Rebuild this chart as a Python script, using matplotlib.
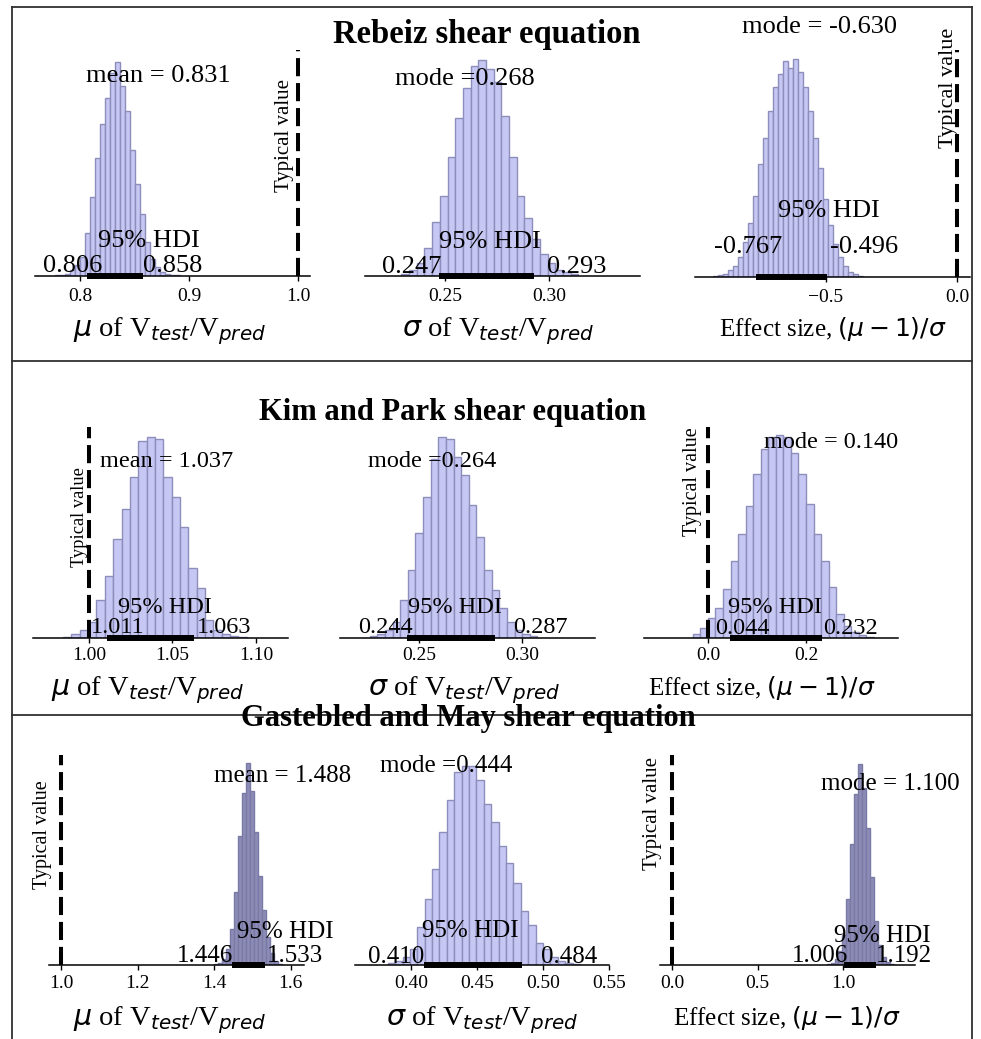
import matplotlib.pyplot as plt
from matplotlib.lines import Line2D

plt.rcParams['font.family'] = ['Liberation Serif', 'DejaVu Serif']
plt.rcParams['mathtext.fontset'] = 'dejavusans'

W, H = 981, 1039

# binned posterior samples: [first bin edge, bin width] and bar heights (tallest bar = 100)
rebeiz_mu_bins = [0.7770, 0.0046]
rebeiz_mu = [0.3, 0.6, 1, 3, 5, 9, 20, 37, 55, 71, 83, 95, 100, 89, 77, 59, 43, 29, 16, 8, 4, 2, 1, 0.5, 0.3]
rebeiz_sigma_bins = [0.2290, 0.0037]
rebeiz_sigma = [1, 3, 6, 13, 25, 37, 55, 73, 87, 97, 100, 96, 90, 74, 55, 37, 27, 17, 10, 6, 3, 2, 1]
rebeiz_effect_bins = [-0.930, 0.0191]
rebeiz_effect = [0.5, 1, 1.5, 3, 5, 9, 16, 25, 37, 52, 64, 76, 87, 93, 99, 96, 100, 94, 87, 76,
                 64, 50, 36, 24, 15, 9, 5, 2.5, 1.5, 0.5]

kim_mu_bins = [0.9845, 0.005]
kim_mu = [0.5, 2, 4, 8, 19, 31, 49, 64, 80, 98, 100, 99, 80, 70, 55, 35, 25, 9, 4, 2, 1, 0.5]
kim_sigma_bins = [0.2261, 0.0037]
kim_sigma = [1, 2, 4, 8, 19, 34, 52, 70, 89, 100, 99, 90, 81, 66, 50, 34, 24, 15, 8, 4, 2, 1]
kim_effect_bins = [-0.031, 0.0154]
kim_effect = [2, 5, 10, 15, 24, 38, 51, 65, 81, 93, 99, 100, 99, 91, 81, 66, 51, 38, 25, 12, 6, 3, 1.5, 0.5]

gm_mu_bins = [1.3988, 0.0105]
gm_mu = [0.3, 1, 3, 8, 18, 36, 64, 85, 100, 86, 66, 44, 27, 14, 6, 2, 0.7]
gm_sigma_bins = [0.3824, 0.0056]
gm_sigma = [1, 2, 4, 8, 19, 33, 48, 67, 83, 97, 100, 100, 93, 81, 72, 60, 51, 41, 27, 20, 11, 8, 4, 2, 1, 0.5]
gm_effect_bins = [0.9045, 0.023]
gm_effect = [0.3, 1, 3, 7, 15, 33, 60, 85, 100, 88, 68, 44, 22, 10, 4, 1.5, 0.5]

# central value and 95% HDI of each posterior
rebeiz_mu_stat, rebeiz_mu_hdi = 0.831, [0.806, 0.858]
rebeiz_sigma_stat, rebeiz_sigma_hdi = 0.268, [0.247, 0.293]
rebeiz_effect_stat, rebeiz_effect_hdi = -0.630, [-0.767, -0.496]
kim_mu_stat, kim_mu_hdi = 1.037, [1.011, 1.063]
kim_sigma_stat, kim_sigma_hdi = 0.264, [0.244, 0.287]
kim_effect_stat, kim_effect_hdi = 0.140, [0.044, 0.232]
gm_mu_stat, gm_mu_hdi = 1.488, [1.446, 1.533]
gm_sigma_stat, gm_sigma_hdi = 0.444, [0.410, 0.484]
gm_effect_stat, gm_effect_hdi = 1.100, [1.006, 1.192]

# x ticks of each panel
rebeiz_mu_ticks = [0.8, 0.9, 1.0]
rebeiz_sigma_ticks = [0.25, 0.30]
rebeiz_effect_ticks = [-0.5, 0.0]
kim_mu_ticks = [1.00, 1.05, 1.10]
kim_sigma_ticks = [0.25, 0.30]
kim_effect_ticks = [0.0, 0.2]
gm_mu_ticks = [1.0, 1.2, 1.4, 1.6]
gm_sigma_ticks = [0.40, 0.45, 0.50, 0.55]
gm_effect_ticks = [0.0, 0.5, 1.0]

row_titles = ['Rebeiz shear equation', 'Kim and Park shear equation', 'Gastebled and May shear equation']
x_labels = [r'$\mu$ of V$_{test}$/V$_{pred}$', r'$\sigma$ of V$_{test}$/V$_{pred}$',
            r'Effect size, $(\mu - 1)/\sigma$']
x_label_sizes = [20.5, 20.5, 18]

LIGHT = ('#c7c7f3', '#8e8ebc')
DARK = ('#8c8cb6', '#7a7aa6')

fig = plt.figure(figsize=(W / 100, H / 100), dpi=100)


def fx(x):
    return x / W


def fy(y):
    return 1 - y / H


def panel(box, lim, bins, heights, colors, peak_frac, ticks, fmt, hdi, ref, tick_pad):
    left, right, top, base = box
    ax = fig.add_axes([fx(left), fy(base), (right - left) / W, (base - top) / H])
    start, width = bins
    edges = [start + i * width for i in range(len(heights))]
    ax.bar(edges, heights, width=width, align='edge', color=colors[0],
           edgecolor=colors[1], linewidth=1.0, zorder=2)
    ax.plot(hdi, [0, 0], color='black', lw=4.3, solid_capstyle='butt', clip_on=False, zorder=4)
    if ref is not None:
        ax.axvline(ref, color='black', lw=2.9, linestyle=(0, (4.5, 1.7)), zorder=5)
    ax.set_xlim(*lim)
    ax.set_ylim(0, 100 / peak_frac)
    for s in ('left', 'right', 'top'):
        ax.spines[s].set_visible(False)
    ax.spines['bottom'].set_linewidth(1.1)
    ax.set_yticks([])
    ax.set_xticks(ticks)
    ax.set_xticklabels([fmt.format(t).replace('-', '\u2212') for t in ticks])
    ax.tick_params(axis='x', length=3.5, width=1.0, labelsize=14, pad=tick_pad)
    ax.patch.set_alpha(0)
    return ax


def put(x, y, s, size, **kw):
    fig.text(fx(x), fy(y), s, fontsize=size, ha='center', va='baseline', **kw)


def typical(x, y, size):
    fig.text(fx(x), fy(y), 'Typical value', fontsize=size, rotation=90, ha='center', va='center')


def stats(label, hdi, pos, size):
    # pos: centre/baseline of the stat label, "95% HDI", lower and upper HDI values
    (sx, sy), (hx, hy), (lx, ly), (ux, uy) = pos
    put(sx, sy, label, size)
    put(hx, hy, '95% HDI', size)
    put(lx, ly, f'{hdi[0]:.3f}', size)
    put(ux, uy, f'{hdi[1]:.3f}', size)


# ---- Rebeiz
panel((35, 310, 50, 276), (0.7587, 1.0110), rebeiz_mu_bins, rebeiz_mu, LIGHT, 0.947,
      rebeiz_mu_ticks, '{:.1f}', rebeiz_mu_hdi, 1.0, 5)
panel((365, 640, 50, 276), (0.2115, 0.3438), rebeiz_sigma_bins, rebeiz_sigma, LIGHT, 0.956,
      rebeiz_sigma_ticks, '{:.2f}', rebeiz_sigma_hdi, None, 5)
panel((695, 970, 50, 277), (-1.0, 0.0496), rebeiz_effect_bins, rebeiz_effect, LIGHT, 0.96,
      rebeiz_effect_ticks, '{:.1f}', rebeiz_effect_hdi, 0.0, 5)
stats(f'mean = {rebeiz_mu_stat:.3f}', rebeiz_mu_hdi, [(158, 82), (149, 247), (73, 272), (173, 272)], 19)
stats(f'mode ={rebeiz_sigma_stat:.3f}', rebeiz_sigma_hdi, [(465, 85), (490, 248), (412, 273), (577, 273)], 19)
stats(f'mode = {rebeiz_effect_stat:.3f}', rebeiz_effect_hdi, [(820, 33), (829, 217), (748, 253), (864, 253)], 19)
typical(285, 135, 15)
typical(948, 88, 16)

# ---- Kim and Park
panel((33, 288, 427, 638), (0.9665, 1.1192), kim_mu_bins, kim_mu, LIGHT, 0.953,
      kim_mu_ticks, '{:.2f}', kim_mu_hdi, 1.0, 3)
panel((340, 595, 427, 638), (0.2117, 0.3354), kim_sigma_bins, kim_sigma, LIGHT, 0.953,
      kim_sigma_ticks, '{:.2f}', kim_sigma_hdi, None, 3)
panel((644, 898, 427, 638), (-0.1306, 0.3878), kim_effect_bins, kim_effect, LIGHT, 0.962,
      kim_effect_ticks, '{:.1f}', kim_effect_hdi, 0.0, 3)
stats(f'mean = {kim_mu_stat:.3f}', kim_mu_hdi, [(167, 467), (165, 613), (118, 633), (224, 633)], 17.5)
stats(f'mode ={kim_sigma_stat:.3f}', kim_sigma_hdi, [(432, 467), (455, 613), (385, 633), (540, 633)], 17.5)
stats(f'mode = {kim_effect_stat:.3f}', kim_effect_hdi, [(831, 448), (775, 613), (742, 634), (850, 634)], 17.5)
typical(80, 517, 13.2)
typical(693, 482, 14.5)

# ---- Gastebled and May
panel((49, 304, 755, 965), (0.9687, 1.6345), gm_mu_bins, gm_mu, DARK, 0.962,
      gm_mu_ticks, '{:.1f}', gm_mu_hdi, 1.0, 4)
panel((355, 609, 755, 965), (0.3576, 0.55), gm_sigma_bins, gm_sigma, LIGHT, 0.948,
      gm_sigma_ticks, '{:.2f}', gm_sigma_hdi, None, 4)
panel((660, 915, 755, 965), (-0.0702, 1.421), gm_effect_bins, gm_effect, DARK, 0.957,
      gm_effect_ticks, '{:.1f}', gm_effect_hdi, 0.0, 4)
stats(f'mean = {gm_mu_stat:.3f}', gm_mu_hdi, [(283, 782), (285, 938), (205, 962), (295, 962)], 18)
stats(f'mode ={gm_sigma_stat:.3f}', gm_sigma_hdi, [(446, 772), (470, 937), (396, 963), (569, 963)], 18)
stats(f'mode = {gm_effect_stat:.3f}', gm_effect_hdi, [(890, 790), (882, 942), (820, 962), (904, 962)], 18)
typical(43, 835, 14.5)
typical(653, 813, 15)

# row titles and axis labels
for (x, y, size), title in zip([(487, 43, 23.5), (453, 420, 22), (468, 726, 22)], row_titles):
    put(x, y, title, size, fontweight='bold')
for y, xs in [(336, (170, 498, 833)), (695, (148, 464, 762)), (1025, (170, 482, 787))]:
    for x, lab, size in zip(xs, x_labels, x_label_sizes):
        put(x, y, lab, size)

# frames around the three rows
frame = dict(color='#303030', lw=1.3)
for y in (7, 361, 715):
    fig.add_artist(Line2D([fx(12), fx(972)], [fy(y), fy(y)], **frame))
for x in (12, 972):
    fig.add_artist(Line2D([fx(x), fx(x)], [fy(7), fy(H)], **frame))

fig.savefig('out.png', dpi=100)
